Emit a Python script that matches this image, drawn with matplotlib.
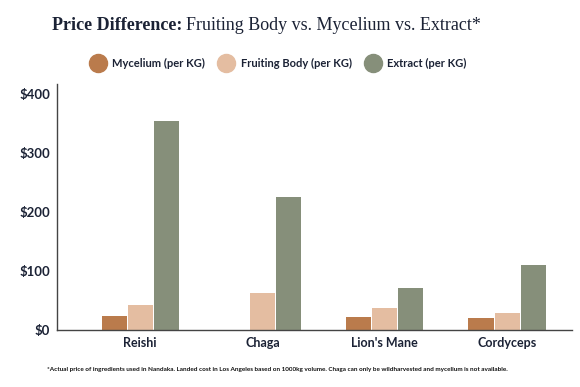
import matplotlib.pyplot as plt
import numpy as np
from matplotlib.lines import Line2D

# data
categories = ["Reishi", "Chaga", "Lion's Mane", "Cordyceps"]
mycelium = [24, 0, 22, 20]
fruiting = [42, 63, 37, 29]
extract = [354, 225, 71, 110]
series_names = ["Mycelium (per KG)", "Fruiting Body (per KG)", "Extract (per KG)"]
yticks = [0, 100, 200, 300, 400]

colors = ["#BA7B4C", "#E4BDA1", "#868F7A"]
dark = "#1B2235"
sans = "Lato"

fig = plt.figure(figsize=(5.8, 3.87), dpi=100)
ax = fig.add_axes([0.0983, 0.1473, 0.8877, 0.6357])

x = np.arange(len(categories))
w = 0.205
step = 0.213
for i, vals in enumerate([mycelium, fruiting, extract]):
    ax.bar(x + (i - 1) * step, vals, width=w, color=colors[i], linewidth=0)

ax.set_xlim(-0.68, 3.53)
ax.set_ylim(0, 417)
ax.set_yticks(yticks)
ax.set_yticklabels(["$" + str(v) for v in yticks], fontweight="bold", fontsize=9.5,
                   family=sans, color=dark)
ax.set_xticks(x)
ax.set_xticklabels(categories, fontweight="bold", fontsize=9, family=sans, color=dark)
ax.tick_params(length=0)
ax.tick_params(axis="y", pad=5)
ax.tick_params(axis="x", pad=5)
for s in ["top", "right"]:
    ax.spines[s].set_visible(False)
for s in ["left", "bottom"]:
    ax.spines[s].set_color("#444444")
    ax.spines[s].set_linewidth(1)

# title, bold part + regular part
fig.text(182 / 580, 1 - 25 / 387, "Price Difference:", fontsize=13, fontweight="bold",
         family="Liberation Serif", color=dark, ha="right", va="center")
fig.text(186 / 580, 1 - 25 / 387, "Fruiting Body vs. Mycelium vs. Extract*", fontsize=13,
         family="Liberation Serif", color=dark, ha="left", va="center")

handles = [Line2D([], [], marker="o", linestyle="", markersize=13, color=c) for c in colors]
fig.legend(handles, series_names, loc="center", bbox_to_anchor=(0.477, 1 - 63 / 387), ncol=3,
           frameon=False, handletextpad=0.3, columnspacing=0.9,
           prop={"weight": "bold", "size": 8, "family": sans})
for t in fig.legends[0].get_texts():
    t.set_color(dark)

fig.text(277 / 580, 1 - 369 / 387,
         "*Actual price of ingredients used in Nandaka. Landed cost in Los Angeles based on 1000kg volume. "
         "Chaga can only be wildharvested and mycelium is not available.",
         fontsize=4.6, fontweight="bold", family=sans, color="#111111", ha="center", va="center")

fig.savefig("out.png", dpi=100, facecolor="white")
